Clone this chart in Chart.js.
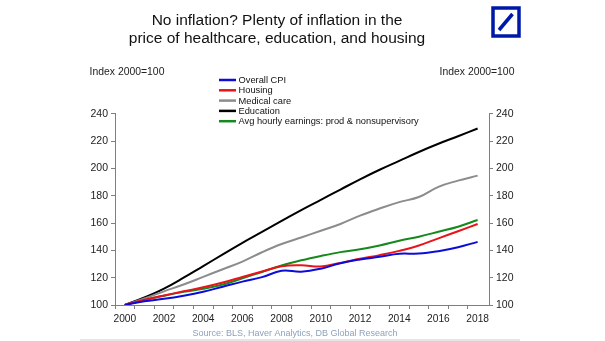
<!DOCTYPE html>
<html>
<head>
<meta charset="utf-8">
<script src="https://cdn.jsdelivr.net/npm/chart.js@4.4.1/dist/chart.umd.min.js"></script>
<style>
    html, body { margin: 0; padding: 0; background: #ffffff; }
    #wrap { width: 605px; height: 341px; }
</style>
</head>
<body>
<div id="wrap"><canvas id="inflationChart" width="605" height="341"></canvas></div>
<script>
// annual values, index 2000=100
const years = [2000, 2001, 2002, 2003, 2004, 2005, 2006, 2007, 2008, 2009,
               2010, 2011, 2012, 2013, 2014, 2015, 2016, 2017, 2018];
const overallCpi = [100, 102.8, 104.5, 106.8, 109.7, 113.4, 117.1, 120.4, 125.0, 124.4,
                    126.6, 130.6, 133.3, 135.3, 137.5, 137.6, 139.4, 142.3, 146.2];
const housing = [100, 103.8, 107.0, 110.0, 113.0, 116.5, 120.5, 124.5, 128.3, 129.0,
                 128.2, 130.8, 133.8, 136.5, 139.6, 143.5, 148.8, 154.0, 159.3];
const medicalCare = [100, 104.8, 110.0, 115.0, 120.6, 126.2, 131.8, 138.6, 144.6, 149.4,
                     154.3, 159.3, 165.4, 170.6, 175.3, 179.0, 186.5, 191.0, 194.7];
const education = [100, 105.5, 112.0, 120.0, 128.5, 137.0, 145.5, 153.5, 161.5, 169.5,
                   177.0, 184.5, 192.0, 199.0, 205.5, 212.0, 218.0, 223.5, 229.2];
const hourlyEarnings = [100, 103.7, 106.8, 109.6, 111.9, 115.0, 119.5, 124.2, 128.9, 132.7,
                        135.9, 138.7, 140.8, 143.6, 147.0, 150.0, 153.6, 157.3, 162.2];
const seriesNames = ['Overall CPI', 'Housing', 'Medical care', 'Education',
                     'Avg hourly earnings: prod & nonsupervisory'];
const yTicks = [100, 120, 140, 160, 180, 200, 220, 240];

const FONT = "'Liberation Sans', Arial, sans-serif";

function toPoints(values) {
    return values.map((v, i) => ({ x: years[i], y: v }));
}

// title, unit labels, legend, source and the DB logo
const decorPlugin = {
    id: 'decor',
    afterDraw(chart) {
        const ctx = chart.ctx;
        ctx.save();

        ctx.fillStyle = '#111111';
        ctx.textAlign = 'center';
        ctx.textBaseline = 'middle';
        ctx.font = '15.5px ' + FONT;
        ctx.fillText('No inflation? Plenty of inflation in the', 277, 21);
        ctx.fillText('price of healthcare, education, and housing', 277, 39);

        ctx.font = '10.4px ' + FONT;
        ctx.fillStyle = '#222222';
        ctx.fillText('Index 2000=100', 127, 72);
        ctx.fillText('Index 2000=100', 477, 72);

        // legend
        ctx.textAlign = 'left';
        ctx.font = '9.3px ' + FONT;
        chart.data.datasets.forEach((ds, i) => {
            const y = 80 + i * 10.3;
            ctx.strokeStyle = ds.borderColor;
            ctx.lineWidth = 2.5;
            ctx.beginPath();
            ctx.moveTo(219, y);
            ctx.lineTo(236, y);
            ctx.stroke();
            ctx.fillStyle = '#111111';
            ctx.fillText(ds.label, 238.5, y + 0.5);
        });

        // source
        ctx.textAlign = 'center';
        ctx.font = '9px ' + FONT;
        ctx.fillStyle = '#8fa2ba';
        ctx.fillText('Source: BLS, Haver Analytics, DB Global Research', 295, 334);

        ctx.strokeStyle = '#dddddd';
        ctx.lineWidth = 1.5;
        ctx.beginPath();
        ctx.moveTo(80, 340);
        ctx.lineTo(520, 340);
        ctx.stroke();

        // logo
        ctx.strokeStyle = '#0018a8';
        ctx.lineWidth = 3.5;
        ctx.strokeRect(493, 8, 26, 28);
        ctx.beginPath();
        ctx.moveTo(499, 30);
        ctx.lineTo(512.5, 14);
        ctx.stroke();

        ctx.restore();
    }
};

document.addEventListener('DOMContentLoaded', function () {
    const ctx = document.getElementById('inflationChart').getContext('2d');
    const colors = ['#0c0cd8', '#e8141a', '#8c8c8c', '#000000', '#16891d'];
    const values = [overallCpi, housing, medicalCare, education, hourlyEarnings];

    const axisColor = '#7f7f7f';
    const tickFont = { family: FONT, size: 10.5 };

    window.inflationChart = new Chart(ctx, {
        type: 'line',
        data: {
            datasets: values.map((vals, i) => ({
                label: seriesNames[i],
                data: toPoints(vals),
                borderColor: colors[i],
                borderWidth: 2,
                pointRadius: 0,
                tension: 0.4,
                fill: false
            }))
        },
        options: {
            responsive: false,
            animation: false,
            devicePixelRatio: 1,
            layout: { padding: { top: 113.7, left: 0, right: 0, bottom: 0 } },
            scales: {
                x: {
                    type: 'linear',
                    min: 1999.5,
                    max: 2018.58,
                    afterBuildTicks: function (scale) {
                        // tick marks sit between years, labels in the middle of each year
                        scale.ticks = years.map(y => ({ value: y - 0.5 }));
                    },
                    afterFit: function (scale) { scale.height = 36; },
                    grid: { drawOnChartArea: false, drawTicks: true, tickLength: 4, color: axisColor },
                    border: { display: true, color: axisColor },
                    ticks: {
                        autoSkip: false,
                        maxRotation: 0,
                        labelOffset: 9.8,
                        padding: 4,
                        color: '#222222',
                        font: { family: FONT, size: 10.2 },
                        callback: function (value) {
                            const y = Math.round(value + 0.5);
                            return y % 2 === 0 ? String(y) : '';
                        }
                    }
                },
                y: {
                    position: 'left',
                    min: yTicks[0],
                    max: yTicks[yTicks.length - 1],
                    afterBuildTicks: function (scale) { scale.ticks = yTicks.map(v => ({ value: v })); },
                    afterFit: function (scale) { scale.width = 115; },
                    grid: { drawOnChartArea: false, drawTicks: true, tickLength: 4, color: axisColor },
                    border: { display: true, color: axisColor },
                    ticks: { color: '#222222', font: tickFont, padding: 3 }
                },
                y2: {
                    position: 'right',
                    min: yTicks[0],
                    max: yTicks[yTicks.length - 1],
                    afterBuildTicks: function (scale) { scale.ticks = yTicks.map(v => ({ value: v })); },
                    afterFit: function (scale) { scale.width = 116; },
                    grid: { drawOnChartArea: false, drawTicks: true, tickLength: 4, color: axisColor },
                    border: { display: true, color: axisColor },
                    ticks: { color: '#222222', font: tickFont, padding: 3 }
                }
            },
            plugins: {
                legend: { display: false },
                title: { display: false },
                tooltip: { enabled: false }
            }
        },
        plugins: [decorPlugin]
    });
});
</script>
</body>
</html>
